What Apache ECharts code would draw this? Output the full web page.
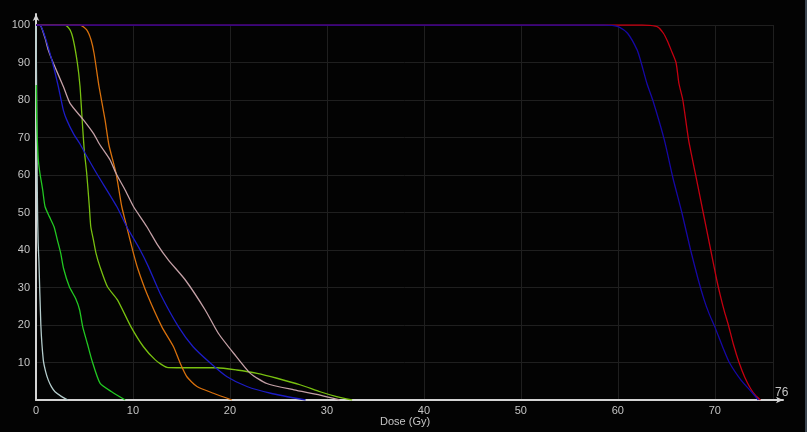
<!DOCTYPE html>
<html>
<head>
<meta charset="utf-8">
<script src="https://cdn.jsdelivr.net/npm/echarts@6/dist/echarts.min.js"></script>
<style>html,body{margin:0;padding:0;background:#030303;}#c{width:807px;height:432px;}</style>
</head>
<body>
<div id="c"></div>
<script>
// ---- data: [dose (Gy), volume (%)] ----
var xTicksMax = 76;
var grayCurve = [[0,100],[0.04,90],[0.08,75],[0.12,60],[0.16,50],[0.22,42],[0.3,37],[0.5,20],[0.75,10.7],[1.0,7.5],[1.27,5.3],[1.6,3.5],[1.96,2.2],[2.65,0.9],[3.3,0]];
var greenCurve = [[0.03,84],[0.07,75],[0.14,69.3],[0.24,64],[0.41,60.4],[0.69,56],[0.93,51.6],[1.38,48.9],[1.86,46.2],[2.2,42.7],[2.55,39.1],[2.85,35],[3.44,30.2],[4.1,27],[4.5,24],[4.82,19.5],[5.3,15],[5.75,10.7],[6.6,4.5],[7.8,2.2],[9.2,0]];
var limeCurve = [[0,100],[3.0,100],[3.51,98.7],[3.85,96],[4.27,89.8],[4.54,83.6],[4.72,76.4],[4.96,67.1],[5.23,60.4],[5.5,51.6],[5.65,46.2],[5.92,42.7],[6.19,39.1],[6.6,35.5],[7.37,30.2],[8.4,26.7],[9.8,19.5],[11.08,14.2],[12.3,10.7],[13.5,8.7],[14.5,8.6],[18.65,8.6],[20.7,8.0],[22.8,7.1],[24.85,5.8],[27.3,4.0],[29.3,2.2],[31.0,0.9],[32.6,0]];
var orangeCurve = [[0,100],[4.54,100],[5.23,98.7],[5.68,96],[5.99,92.4],[6.5,83.6],[7.12,74.7],[7.52,68],[8.26,60.4],[8.84,51.6],[9.36,46.2],[10.05,39.1],[10.5,35],[11.43,28.4],[12.98,19.5],[14.18,14.2],[14.87,9.8],[15.56,6.2],[16.6,3.6],[18.3,1.8],[20.2,0]];
var pinkCurve = [[0,100],[0.4,100],[0.93,96.5],[1.27,93.3],[1.79,89.8],[2.82,83.6],[3.51,79.1],[4.89,74.7],[5.92,71.1],[6.6,68],[7.64,64],[8.26,60.4],[9.19,56],[10.05,51.6],[11.43,46.2],[12.5,41.5],[13.66,37.3],[15.4,32],[17.45,24],[18.8,17.8],[20.4,12.4],[22.1,7.1],[23.8,4.4],[26.6,2.7],[29.3,1.3],[31.3,0]];
var blueCurve = [[0,100],[0.4,100],[0.93,96.9],[1.72,89.8],[2.3,83.6],[2.82,77.3],[3.17,74.7],[3.85,71.1],[4.6,68],[5.06,65.8],[6.26,60.4],[8.33,51.6],[9.36,46.2],[10.74,40],[11.6,35.5],[12.8,28.4],[14.7,19.5],[16.2,14.2],[18.0,9.8],[19.7,6.2],[21.75,3.6],[24.2,1.8],[27.8,0]];
var ptvRed = [[0,100],[62.5,100],[63.3,99.9],[64.1,99.5],[64.7,97.8],[65.1,95.8],[65.5,93.3],[66.0,90],[66.3,84.4],[66.7,80],[67.3,69.3],[68.0,60.3],[68.8,50],[69.5,41],[70.2,32],[70.6,27.5],[71.0,23.5],[71.4,20],[71.9,15],[72.5,10],[73.1,6],[73.7,3],[74.2,1.2],[74.7,0]];
var ptvBlue = [[0,100],[58.5,100],[59.4,99.9],[60.1,99.5],[61.0,97.8],[62.0,93.3],[62.4,90],[63.0,84.4],[63.6,80],[64.8,69.3],[65.7,59],[66.6,50],[67.5,40],[68.3,32],[68.9,26.7],[69.4,23.1],[70.0,19.5],[70.8,14.2],[71.5,10],[72.7,5.3],[73.7,2.4],[74.5,0]];

var curves = [
  {data: grayCurve, color: '#b4cccc'},
  {data: greenCurve, color: '#22c822'},
  {data: limeCurve, color: '#78c010'},
  {data: orangeCurve, color: '#d8700c'},
  {data: pinkCurve, color: '#c4a0a6'},
  {data: blueCurve, color: '#1c1cc4'},
  {data: ptvRed, color: '#c40010'},
  {data: ptvBlue, color: '#1608a4'}
];

var txt = '#c4c4c4';
var font = 'Liberation Sans, Arial, sans-serif';
var chart = echarts.init(document.getElementById('c'), null, {renderer: 'canvas'});
var series = curves.map(function (c) {
  return {
    type: 'line', xAxisIndex: 0, yAxisIndex: 0, data: c.data,
    showSymbol: false, smooth: 0.2,
    lineStyle: {color: c.color, width: 1.3}, itemStyle: {color: c.color},
    animation: false, z: 3
  };
});
series.push({type: 'line', xAxisIndex: 1, yAxisIndex: 1, data: [], animation: false});

chart.setOption({
  backgroundColor: '#030303',
  animation: false,
  grid: [
    {left: 36, right: 34, top: 25, bottom: 32, containLabel: false, outerBoundsMode: 'none'},
    {left: 36, right: 24, top: 14, bottom: 32, containLabel: false, outerBoundsMode: 'none'}
  ],
  xAxis: [
    {
      type: 'value', gridIndex: 0, min: 0, max: xTicksMax, interval: 10,
      name: String(xTicksMax), nameLocation: 'end', nameGap: 2,
      nameTextStyle: {color: txt, fontSize: 12, fontFamily: font, align: 'left', verticalAlign: 'bottom', padding: [0, 0, 1, 0]},
      axisLine: {show: false}, axisTick: {show: false},
      axisLabel: {color: txt, fontSize: 11, fontFamily: font, margin: 5,
        formatter: function (v) { return v === xTicksMax ? '' : String(v); }},
      splitLine: {show: true, lineStyle: {color: '#1f1f1f', width: 1}}
    },
    {
      type: 'value', gridIndex: 1, min: 0, max: 1,
      axisLine: {show: true, symbol: ['none', 'arrow'], symbolSize: [5, 7], lineStyle: {color: '#d4d4d4', width: 2}},
      axisTick: {show: false}, axisLabel: {show: false}, splitLine: {show: false}
    }
  ],
  yAxis: [
    {
      type: 'value', gridIndex: 0, min: 0, max: 100, interval: 10,
      name: 'Volume(%)', nameLocation: 'middle', nameGap: 24, nameRotate: 90,
      nameTextStyle: {color: txt, fontSize: 11, fontFamily: font},
      axisLine: {show: false}, axisTick: {show: false},
      axisLabel: {color: txt, fontSize: 11, fontFamily: font, margin: 6,
        formatter: function (v) { return v === 0 ? '' : String(v); }},
      splitLine: {show: true, lineStyle: {color: '#1f1f1f', width: 1}}
    },
    {
      type: 'value', gridIndex: 1, min: 0, max: 1,
      axisLine: {show: true, symbol: ['none', 'arrow'], symbolSize: [5, 7], lineStyle: {color: '#d4d4d4', width: 2}},
      axisTick: {show: false}, axisLabel: {show: false}, splitLine: {show: false}
    }
  ],
  graphic: [
    {type: 'text', left: 380, top: 416, style: {text: 'Dose (Gy)', fill: txt, fontSize: 11, fontFamily: font}},
    {type: 'rect', right: 0, top: 0, shape: {width: 2, height: 432}, style: {fill: '#3c4652'}}
  ],
  series: series
});
</script>
</body>
</html>
